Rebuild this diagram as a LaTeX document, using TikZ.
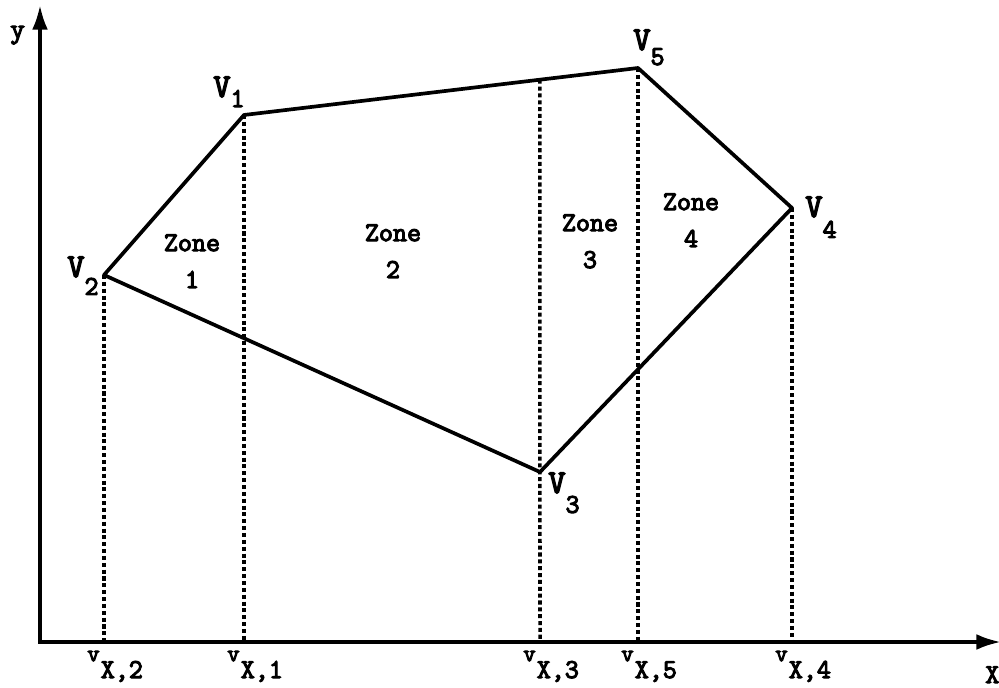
\documentclass[tikz,border=0pt]{standalone}
\usepackage{fontspec}
\usetikzlibrary{arrows.meta,calc}
\newfontfamily\labelfont{Latin Modern Mono}[FakeBold=4]
\newcommand\vlab[2]{V\raisebox{-#2pt}{\fontsize{15.5}{15.5}\selectfont #1}}
\newcommand\vfoot[1]{\raisebox{9.6pt}{\fontsize{13.5}{13.5}\selectfont v}\kern0.7pt X,#1}

\begin{document}
\begin{tikzpicture}[x=0.02cm, y=-0.02cm,
  >={Latex[length=14pt,width=9pt]},
  font=\labelfont,
  edge/.style={line width=2.1pt, line join=round},
  proj/.style={line width=2pt, dash pattern=on 2.3pt off 1.6pt},
  axis/.style={line width=2.1pt},
  vert/.style={anchor=base west, inner sep=0pt, font=\labelfont\fontsize{19}{19}\selectfont},
  foot/.style={anchor=base west, inner sep=0pt, font=\labelfont\fontsize{15.5}{15.5}\selectfont},
  zone/.style={anchor=base, inner sep=0pt, align=center, font=\labelfont\fontsize{15.5}{21}\selectfont}]
\useasboundingbox (0,0) rectangle (999,688);
% corners of the polygon
\coordinate (v1) at (244,115);
\coordinate (v2) at (104,275);
\coordinate (v3) at (540,472);
\coordinate (v4) at (792,208);
\coordinate (v5) at (638,68);
\coordinate (o) at (40,642);
\coordinate (ytip) at (40,5);
\coordinate (xtip) at (1001,642);
\foreach \i in {1,...,5} \coordinate (f\i) at (v\i |- o);
\coordinate (t3) at ($(v1)!0.751!(v5)$);
% projections
\foreach \i in {1,2,4,5} \draw[proj] (v\i) -- (f\i);
\draw[proj] (t3) -- (f3);
\draw[edge] (v1) -- (v5) -- (v4) -- (v3) -- (v2) -- cycle;
\draw[axis, <->] (ytip) -- (o) -- (xtip);
% labels
\node[vert] (l1) at (213,97) {\vlab{1}{5.7}};
\node[vert] (l2) at (67,277) {\vlab{2}{10.2}};
\node[vert] (l3) at (548,493) {\vlab{3}{11.3}};
\node[vert] (l4) at (805,217) {\vlab{4}{11.9}};
\node[vert] (l5) at (633,50) {\vlab{5}{8.5}};
\node[zone] (z1) at (192,288) {Zone\\1};
\node[zone] (z2) at (393,278) {Zone\\2};
\node[zone] (z3) at (590,268) {Zone\\3};
\node[zone] (z4) at (691,247) {Zone\\4};
\node[foot] (x2) at (87,678) {\vfoot{2}};
\node[foot] (x1) at (227,678) {\vfoot{1}};
\node[foot] (x3) at (523,678) {\vfoot{3}};
\node[foot] (x5) at (621,678) {\vfoot{5}};
\node[foot] (x4) at (775,678) {\vfoot{4}};
\node[foot, font=\labelfont\fontsize{16}{16}\selectfont] (ylab) at (10,38) {y};
\node[foot] (xlab) at (985,683) {X};
\end{tikzpicture}
\end{document}
